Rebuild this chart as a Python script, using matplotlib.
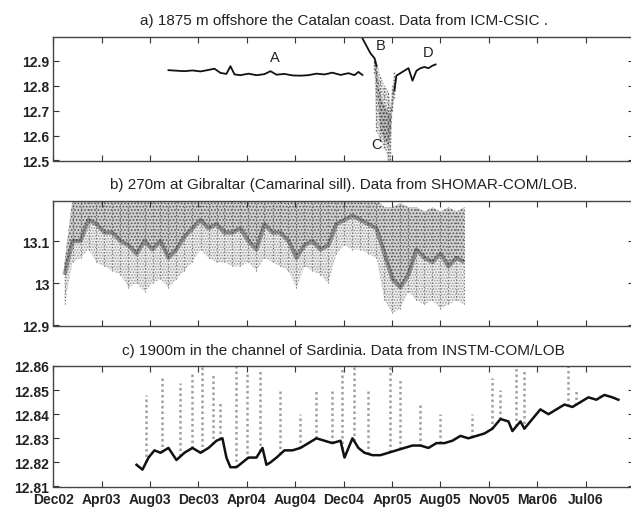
import matplotlib
matplotlib.use('Agg')
import matplotlib.pyplot as plt
import numpy as np

plt.rcParams['font.family'] = ['Liberation Sans', 'DejaVu Sans']
plt.rcParams['hatch.linewidth'] = 0.8

# ---------------- data ----------------
# x axis: months since Dec 2002 (one tick every 4 months)
x_tick_months = [0, 4, 8, 12, 16, 20, 24, 28, 32, 36, 40, 44]
x_tick_labels = ['Dec02', 'Apr03', 'Aug03', 'Dec03', 'Apr04', 'Aug04',
                 'Dec04', 'Apr05', 'Aug05', 'Nov05', 'Mar06', 'Jul06']

# panel a : trace A, then B, then D (NaN = gaps)
a_t = [9.52, 10.18, 10.84, 11.50, 12.17, 12.83, 13.32, 13.82, 14.31, 14.64,
       14.98, 15.47, 16.13, 16.79, 17.45, 17.95, 18.45, 19.11, 19.77, 20.43,
       21.09, 21.75, 22.41, 23.07, 23.74, 24.40, 24.89, 25.22, 25.55,
       np.nan,
       25.55, 25.88, 26.21, 26.55, 26.71,
       np.nan,
       28.20, 28.36, 28.69, 29.02, 29.36, 29.69, 30.02, 30.35, 30.68, 31.01,
       31.34, 31.60]
a_v = [12.862, 12.860, 12.858, 12.861, 12.857, 12.863, 12.868, 12.851, 12.847, 12.878,
       12.845, 12.842, 12.848, 12.842, 12.846, 12.858, 12.844, 12.847, 12.841, 12.840,
       12.842, 12.848, 12.845, 12.852, 12.843, 12.850, 12.842, 12.855, 12.843,
       np.nan,
       12.99, 12.96, 12.93, 12.91, 12.88,
       np.nan,
       12.78, 12.84, 12.85, 12.86, 12.87, 12.82, 12.86, 12.87, 12.875, 12.87,
       12.88, 12.885]
# panel a : spread of the event C (outer range and dense core)
c_env_t = [26.55, 26.71, 27.04, 27.37, 27.70, 27.87, 28.03, 28.20]
c_env_lo = [12.85, 12.62, 12.58, 12.55, 12.50, 12.50, 12.70, 12.75]
c_env_hi = [12.91, 12.90, 12.84, 12.80, 12.78, 12.72, 12.80, 12.86]
c_core_lo = [12.88, 12.80, 12.62, 12.58, 12.56, 12.60, 12.72, 12.78]
c_core_hi = [12.91, 12.88, 12.76, 12.72, 12.70, 12.68, 12.76, 12.82]

# panel b : Gibraltar
b_t = [0.93, 1.59, 2.25, 2.91, 3.57, 4.23, 4.89, 5.55, 6.21, 6.88,
       7.54, 8.20, 8.86, 9.52, 10.18, 10.84, 11.50, 12.17, 12.83, 13.49,
       14.15, 14.81, 15.47, 16.13, 16.79, 17.45, 18.12, 18.78, 19.44, 20.10,
       20.76, 21.42, 22.08, 22.74, 23.40, 24.07, 24.73, 25.39, 26.05, 26.71,
       27.37, 28.03, 28.69, 29.36, 30.02, 30.68, 31.34, 32.00, 32.66, 33.32,
       33.98]
b_mid = [13.02, 13.10, 13.10, 13.15, 13.14, 13.12, 13.12, 13.10, 13.09, 13.07,
         13.10, 13.08, 13.10, 13.06, 13.08, 13.11, 13.13, 13.15, 13.13, 13.14,
         13.12, 13.12, 13.13, 13.10, 13.08, 13.14, 13.12, 13.12, 13.10, 13.06,
         13.09, 13.10, 13.08, 13.09, 13.14, 13.15, 13.16, 13.15, 13.14, 13.13,
         13.07, 13.01, 12.99, 13.02, 13.08, 13.06, 13.05, 13.07, 13.04, 13.06,
         13.05]
b_lo = [12.95, 13.05, 13.06, 13.08, 13.05, 13.04, 13.03, 13.02, 12.99, 13.00,
        12.98, 13.00, 13.01, 12.99, 13.01, 13.03, 13.05, 13.08, 13.06, 13.05,
        13.05, 13.04, 13.04, 13.05, 13.03, 13.06, 13.05, 13.04, 13.03, 12.99,
        13.04, 13.03, 13.02, 13.00, 13.07, 13.09, 13.08, 13.08, 13.07, 13.06,
        12.96, 12.93, 12.94, 12.98, 12.96, 12.95, 12.96, 12.94, 12.95, 12.96,
        12.95]
b_hi = [13.05, 13.20, 13.20, 13.20, 13.20, 13.20, 13.20, 13.20, 13.20, 13.20,
        13.20, 13.20, 13.20, 13.20, 13.20, 13.20, 13.20, 13.20, 13.20, 13.20,
        13.20, 13.20, 13.20, 13.20, 13.20, 13.20, 13.20, 13.20, 13.20, 13.20,
        13.20, 13.20, 13.20, 13.20, 13.20, 13.20, 13.20, 13.20, 13.20, 13.20,
        13.18, 13.18, 13.19, 13.18, 13.18, 13.17, 13.18, 13.17, 13.18, 13.17,
        13.18]

# panel c : Sardinia channel
c_t = [6.88, 7.37, 7.87, 8.36, 8.86, 9.52, 10.18, 10.84, 11.50, 12.17,
       12.83, 13.49, 13.98, 14.31, 14.64, 15.14, 15.64, 16.13, 16.79, 17.29,
       17.62, 17.95, 18.45, 19.11, 19.77, 20.43, 21.09, 21.75, 22.41, 23.07,
       23.74, 24.07, 24.40, 24.73, 25.22, 25.72, 26.38, 27.04, 27.70, 28.36,
       29.02, 29.69, 30.35, 31.01, 31.67, 32.33, 32.99, 33.65, 34.31, 34.98,
       35.64, 36.30, 36.96, 37.62, 37.95, 38.61, 38.94, 39.60, 40.26, 40.93,
       41.59, 42.25, 42.91, 43.57, 44.23, 44.89, 45.55, 46.21, 46.71]
c_v = [12.819, 12.817, 12.822, 12.825, 12.824, 12.826, 12.821, 12.824, 12.826, 12.824,
       12.826, 12.829, 12.830, 12.822, 12.818, 12.818, 12.820, 12.822, 12.822, 12.826,
       12.819, 12.820, 12.822, 12.825, 12.825, 12.826, 12.828, 12.830, 12.829, 12.828,
       12.829, 12.822, 12.826, 12.830, 12.826, 12.824, 12.823, 12.823, 12.824, 12.825,
       12.826, 12.827, 12.827, 12.826, 12.828, 12.828, 12.829, 12.831, 12.830, 12.831,
       12.832, 12.834, 12.838, 12.837, 12.833, 12.837, 12.834, 12.838, 12.842, 12.840,
       12.842, 12.844, 12.843, 12.845, 12.847, 12.846, 12.848, 12.847, 12.846]
spike_t = [7.70, 9.02, 10.51, 11.50, 12.33, 13.16, 13.82, 15.14, 15.97, 17.12,
           18.78, 20.43, 21.75, 23.07, 23.90, 24.89, 26.05, 27.87, 28.69, 30.35,
           32.00, 34.64, 36.30, 36.96, 38.28, 38.94, 42.58, 43.24, 45.22]
spike_top = [12.848, 12.855, 12.853, 12.858, 12.860, 12.857, 12.845, 12.860, 12.858, 12.858,
             12.850, 12.840, 12.850, 12.850, 12.860, 12.860, 12.850, 12.860, 12.855, 12.845,
             12.840, 12.840, 12.855, 12.850, 12.860, 12.858, 12.860, 12.850, 12.848]

titles = ['a) 1875 m offshore the Catalan coast. Data from ICM-CSIC .',
          'b) 270m at Gibraltar (Camarinal sill). Data from SHOMAR-COM/LOB.',
          'c) 1900m in the channel of Sardinia. Data from INSTM-COM/LOB']

# ---------------- figure ----------------
W_PX, H_PX = 631, 510
fig = plt.figure(figsize=(W_PX / 100, H_PX / 100), dpi=100)
left = 53.3 / W_PX
width = (634 - 53.3) / W_PX


def add_ax(top_px, bot_px):
    return fig.add_axes([left, 1 - bot_px / H_PX, width, (bot_px - top_px) / H_PX])


axa = add_ax(38, 161.5)
axb = add_ax(202, 326.5)
axc = add_ax(367, 487.5)


def style(ax, yticks, ylabels, ylim, title):
    ax.set_xlim(0, 48)
    ax.set_ylim(*ylim)
    ax.set_xticks(x_tick_months)
    ax.set_yticks(yticks)
    ax.set_yticklabels(ylabels)
    ax.tick_params(direction='in', length=4, width=0.8, color='#333',
                   top=True, right=True, labelsize=10, pad=3)
    for lab in ax.get_yticklabels():
        lab.set_fontweight('bold')
        lab.set_color('#222')
    for s in ax.spines.values():
        s.set_color('#444')
        s.set_linewidth(1.0)
    ax.set_title(title, fontsize=11, color='#222', pad=9)


# panel a
style(axa, [12.5, 12.6, 12.7, 12.8, 12.9], ['12.5', '12.6', '12.7', '12.8', '12.9'],
      (12.5, 12.995), titles[0])
axa.fill_between(c_env_t, c_env_lo, c_env_hi, facecolor='#f0f0f0', lw=0,
                 hatch='......', edgecolor='#888888')
axa.fill_between(c_env_t, c_core_lo, c_core_hi, facecolor='#bbbbbb', lw=0,
                 hatch='.....', edgecolor='#333333')
axa.vlines(c_env_t, c_env_lo, c_env_hi, color='#666666', lw=1.0, linestyles=(0, (1, 1.5)))
axa.plot(a_t, a_v, color='#111111', lw=1.3)
axa.set_xticklabels([])
for txt, tx, ty in [('A', 18.3, 12.913), ('B', 27.04, 12.963), ('C', 26.7, 12.567), ('D', 31.0, 12.933)]:
    axa.text(tx, ty, txt, fontsize=10.5, color='#222', ha='center', va='center')

# panel b
style(axb, [12.9, 13.0, 13.1], ['12.9', '13', '13.1'], (12.9, 13.195), titles[1])
axb.fill_between(b_t, b_lo, b_hi, facecolor='#eeeeee', lw=0, hatch='......',
                 edgecolor='#9a9a9a')
axb.fill_between(b_t, b_mid, b_hi, facecolor='#d0d0d0', lw=0, hatch='.....',
                 edgecolor='#555555')
axb.vlines(b_t, b_lo, b_hi, color='#666666', lw=0.8, linestyles=(0, (1, 2)))
axb.plot(b_t, b_mid, color='#222222', lw=3, alpha=0.4, solid_capstyle='butt')
axb.set_xticklabels([])

# panel c
style(axc, [12.81, 12.82, 12.83, 12.84, 12.85, 12.86],
      ['12.81', '12.82', '12.83', '12.84', '12.85', '12.86'], (12.81, 12.86), titles[2])
spike_base = np.interp(spike_t, c_t, c_v)
axc.vlines(spike_t, spike_base, spike_top, color='#8a8a8a', lw=1.8,
           linestyles=(0, (1, 1.2)), alpha=0.8)
axc.plot(c_t, c_v, color='#111111', lw=1.8)
axc.set_xticklabels(x_tick_labels)
axc.tick_params(axis='x', pad=4.2)
for lab in axc.get_xticklabels():
    lab.set_fontweight('bold')
    lab.set_color('#222')

fig.savefig('out.png', dpi=100, facecolor='white')
